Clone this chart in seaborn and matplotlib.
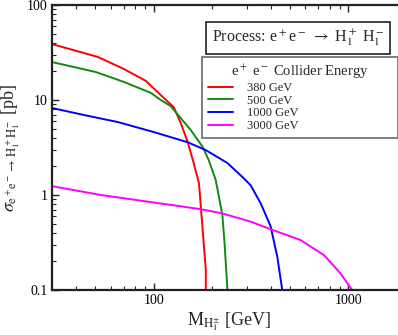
import numpy as np
import pandas as pd
import matplotlib
matplotlib.use('Agg')
import matplotlib.pyplot as plt
import seaborn as sns
from matplotlib.ticker import LogLocator, FixedLocator, FixedFormatter, NullFormatter

# cross section curves (M in GeV, sigma in pb)
m_380 = [30, 51.6, 70.2, 91, 111, 126.7, 137.5, 149.4, 160.3, 170.7, 185, 185]
s_380 = [38.8, 28.4, 21.2, 15.9, 10.8, 8.4, 5.73, 3.61, 2.17, 1.33, 0.163, 0.1]

m_500 = [30, 50.4, 70.2, 96.5, 108.6, 122, 154.8, 178.4, 191.4, 208, 225, 231, 239]
s_500 = [25.1, 19.7, 15.5, 11.9, 10, 8.65, 4.83, 3.2, 2.34, 1.44, 0.62, 0.31, 0.1]

m_1000 = [30, 43.8, 65.4, 100, 148.8, 185, 239, 289, 314, 354, 398, 431, 457]
s_1000 = [8.24, 6.95, 5.86, 4.6, 3.6, 2.97, 2.17, 1.51, 1.27, 0.82, 0.47, 0.224, 0.1]

m_3000 = [30, 53.5, 174, 225, 314, 406, 567, 749, 909, 1045]
s_3000 = [1.24, 1.0, 0.71, 0.64, 0.525, 0.43, 0.336, 0.233, 0.15, 0.1]

energies = ['380 GeV', '500 GeV', '1000 GeV', '3000 GeV']
colors = ['#ff0000', '#108a10', '#0000ff', '#ff00ff']

df = pd.concat([
    pd.DataFrame({'M': m, 'sigma': s, 'energy': e})
    for m, s, e in zip([m_380, m_500, m_1000, m_3000],
                       [s_380, s_500, s_1000, s_3000], energies)
], ignore_index=True)

sns.set_theme(style='ticks')
plt.rcParams['font.family'] = ['Liberation Serif', 'DejaVu Serif']
plt.rcParams['mathtext.fontset'] = 'stix'

fig = plt.figure(figsize=(3.98, 3.35), dpi=100)
ax = fig.add_axes([0.1307, 0.1343, 0.892, 0.8507])

sns.lineplot(data=df, x='M', y='sigma', hue='energy', hue_order=energies,
             palette=dict(zip(energies, colors)), sort=False, estimator=None,
             lw=1.4, ax=ax, legend=True)

ax.set_xscale('log')
ax.set_yscale('log')
ax.set_xlim(30, 2000)
ax.set_ylim(0.1, 100)

ax.xaxis.set_major_locator(FixedLocator([100, 1000]))
ax.xaxis.set_major_formatter(FixedFormatter(['100', '1000']))
ax.xaxis.set_minor_locator(LogLocator(base=10, subs=np.arange(2, 10)))
ax.xaxis.set_minor_formatter(NullFormatter())
ax.yaxis.set_major_locator(FixedLocator([0.1, 1, 10, 100]))
ax.yaxis.set_major_formatter(FixedFormatter(['0.1', '1', '10', '100']))
ax.yaxis.set_minor_locator(LogLocator(base=10, subs=np.arange(2, 10)))
ax.yaxis.set_minor_formatter(NullFormatter())

for sp in ax.spines.values():
    sp.set_linewidth(1.6)
    sp.set_color('#222222')
ax.tick_params(which='both', direction='in', top=True, right=True,
               labelsize=10, pad=3, colors='#222222', labelcolor='black')
ax.tick_params(which='major', length=5, width=1)
ax.tick_params(which='minor', length=3, width=0.8)

ax.set_xlabel(r'M$_{\mathrm{H}_1^{\pm}}$ [GeV]', fontsize=13, labelpad=2)
ax.set_ylabel(r'$\sigma_{\mathrm{e}^+\mathrm{e}^-\rightarrow\,\mathrm{H}_1^+\mathrm{H}_1^-}$ [pb]',
              fontsize=13, labelpad=4)

fig.text(0.749, 0.887, r'Process: e$^+$e$^-$ $\rightarrow$ H$_1^+$ H$_1^-$',
         fontsize=11.5, ha='center', va='center',
         bbox=dict(boxstyle='square,pad=0.35', facecolor='white',
                   edgecolor='#222222', lw=1.2))

handles, labels = ax.get_legend_handles_labels()
leg = ax.legend(handles, labels, title=r'e$^+$ e$^-$ Collider Energy',
                loc='upper left', bbox_to_anchor=(0.5075, 0.597, 0.4925, 0.233),
                bbox_transform=fig.transFigure, mode='expand',
                fontsize=9, title_fontsize=10.5, frameon=True, fancybox=False,
                handlelength=2.0, handletextpad=1.1, labelspacing=0.05,
                borderpad=0.5, borderaxespad=0)
leg.get_frame().set_edgecolor('#444444')
leg.get_frame().set_linewidth(1.2)

fig.savefig('out.png', dpi=100)
